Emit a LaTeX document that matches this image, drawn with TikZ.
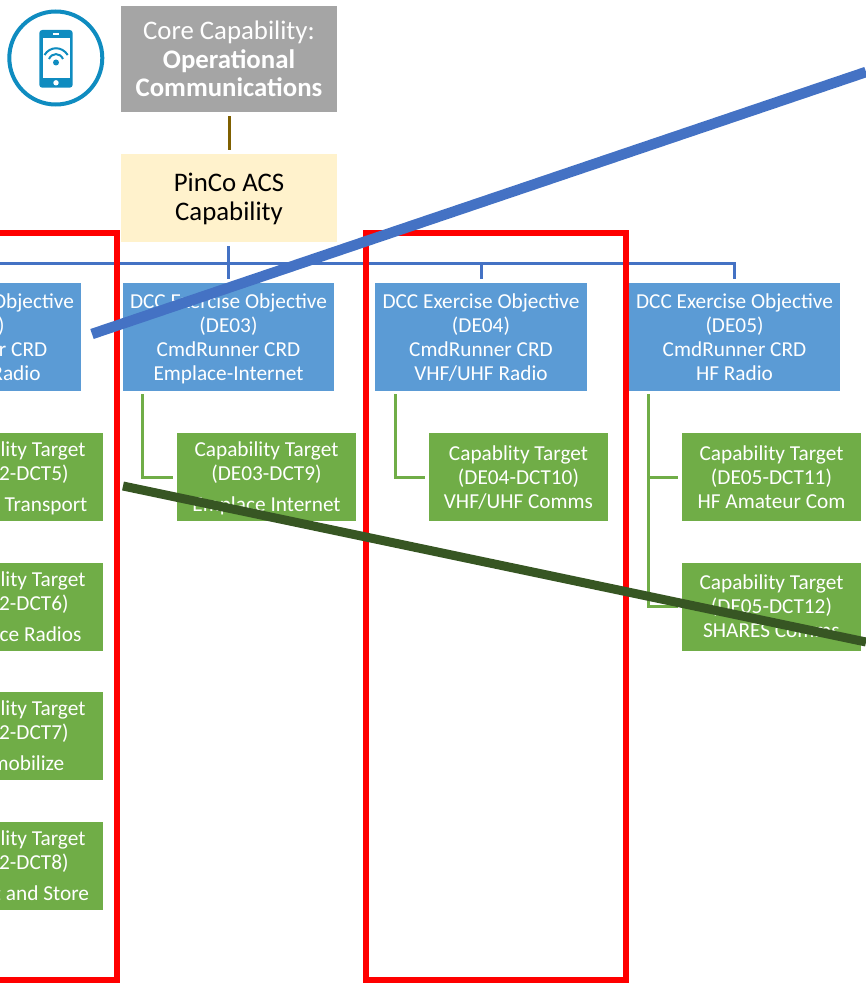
\documentclass[tikz,border=0pt]{standalone}
\usepackage{fontspec}
\setmainfont{Carlito}
\definecolor{coregray}{HTML}{A5A5A5}
\definecolor{acsgold}{HTML}{FFF2CC}
\definecolor{objblue}{HTML}{5B9BD5}
\definecolor{tgtgreen}{HTML}{70AD47}
\definecolor{busblue}{HTML}{4472C4}
\definecolor{linkbrown}{HTML}{7F6000}
\definecolor{darkgreen}{HTML}{375623}
\definecolor{iconblue}{HTML}{0F8CC0}
\newcommand{\headroom}{\rule{0pt}{21.6pt}}
\tikzset{
	boxtext/.style={text=white, align=center, inner sep=0, font=\fontsize{21.3}{24}\selectfont, execute at end node=\strut},
	objective/.style={boxtext, fill=objblue, minimum width=211.5pt, minimum height=108pt},
	target/.style={boxtext, fill=tgtgreen, minimum width=179.5pt, minimum height=88pt},
	topbox/.style={align=center, inner sep=0, minimum width=216pt},
	busline/.style={busblue, line width=3pt},
	tgtline/.style={tgtgreen, line width=3pt},
	redframe/.style={red, line width=6pt},
}
\begin{document}
\begin{tikzpicture}[x=1pt, y=-1pt]
	\useasboundingbox (0,0) rectangle (866,984);

	\draw [iconblue, line width=4pt] (55.8,58) circle [radius=46.5pt];
	\fill [iconblue, rounded corners=3pt] (39.3,30) rectangle (72.7,87.7);
	\fill [white] (42.7,37.7) rectangle (70,78.3);
	\fill [white] (53,33.3) rectangle (59,34.7);
	\fill [white] (56,82.8) circle [radius=2.7pt];
	\fill [iconblue] (56,62.5) circle [radius=3pt];
	\draw [iconblue, line width=2pt] (44.5,55) .. controls (50,46) and (62,46) .. (67.7,55);
	\draw [iconblue, line width=2pt] (49,59) .. controls (52,52.5) and (60,52.5) .. (63,59);

	\node [topbox, fill=coregray, text=white, minimum height=106pt, font=\fontsize{26.8}{28.5}\selectfont] (core) at (229,59) {Core Capability:\\\textbf{Operational}\\\textbf{Communications}};
	\node [topbox, fill=acsgold, text=black, minimum height=88pt, font=\fontsize{26.8}{29}\selectfont] (pinco) at (229,198) {\rule{0pt}{21pt}PinCo ACS\\Capability};

	\node [objective] (de02) at (-24.5,337) {\headroom DCC Exercise Objective\\(DE02)\\CmdRunner CRD\\\hspace*{81pt}Radio};
	\node [objective] (de03) at (228.5,337) {\headroom DCC Exercise Objective\\(DE03)\\CmdRunner CRD\\Emplace-Internet};
	\node [objective] (de04) at (481,337) {\headroom DCC Exercise Objective\\(DE04)\\CmdRunner CRD\\VHF/UHF Radio};
	\node [objective] (de05) at (734.5,337) {\headroom DCC Exercise Objective\\(DE05)\\CmdRunner CRD\\HF Radio};

	\node [target] (dct5) at (13.5,477) {\headroom Capability Target\\(DE02-DCT5)\\[7pt]\hspace*{65pt}Transport};
	\node [target] (dct6) at (13.5,606.5) {\headroom Capability Target\\(DE02-DCT6)\\[7pt]\hspace*{54pt}ce Radios};
	\node [target] (dct7) at (13.5,736) {\headroom Capability Target\\(DE02-DCT7)\\[7pt]\hspace*{29pt}mobilize};
	\node [target] (dct8) at (13.5,866) {\headroom Capability Target\\(DE02-DCT8)\\[7pt]\hspace*{56pt}t and Store};
	\node [target] (dct9) at (266.5,477) {\headroom Capability Target\\(DE03-DCT9)\\[7pt]Emplace Internet};
	\node [target] (dct10) at (518.5,477) {\headroom Capablity Target\\(DE04-DCT10)\\VHF/UHF Comms};
	\node [target] (dct11) at (771.5,477) {\headroom Capability Target\\(DE05-DCT11)\\HF Amateur Com};
	\node [target] (dct12) at (771.5,606.5) {\headroom Capability Target\\(DE05-DCT12)\\SHARES Comms};

	\draw [linkbrown, line width=3pt, shorten <=4pt, shorten >=4pt] (core) -- (pinco);

	\coordinate (bus) at (228.5,263);
	\draw [busline, shorten <=4pt] (pinco.south -| bus) -- (bus);
	\draw [busline, shorten >=4pt] (bus) -| (de02.north);
	\draw [busline, shorten >=4pt] (bus) -- (de03.north);
	\draw [busline, shorten >=4pt] (bus) -| (de04.north);
	\draw [busline, shorten >=4pt] (bus) -| (de05.north);

	\coordinate (de03drop) at (142.5,391);
	\coordinate (de04drop) at (395,391);
	\coordinate (de05drop) at (648,391);
	\draw [tgtline, shorten <=3pt, shorten >=4pt] (de03drop) |- (dct9.west);
	\draw [tgtline, shorten <=3pt, shorten >=4pt] (de04drop) |- (dct10.west);
	\draw [tgtline, shorten <=3pt, shorten >=4pt] (de05drop) |- (dct11.west);
	\draw [tgtline, shorten <=3pt, shorten >=4pt] (de05drop) |- (dct12.west);

	\draw [redframe] (-150,233) rectangle (116.5,979.5);
	\draw [redframe] (365.5,233) rectangle (625.7,979.5);

	\coordinate (bluestart) at (92,334);
	\coordinate (blueend) at (866,72);
	\coordinate (greenstart) at (123,486);
	\coordinate (greenend) at (866,642);
	\draw [busblue, line width=10.5pt] (bluestart) -- (blueend);
	\draw [darkgreen, line width=9pt] (greenstart) -- (greenend);
\end{tikzpicture}
\end{document}
